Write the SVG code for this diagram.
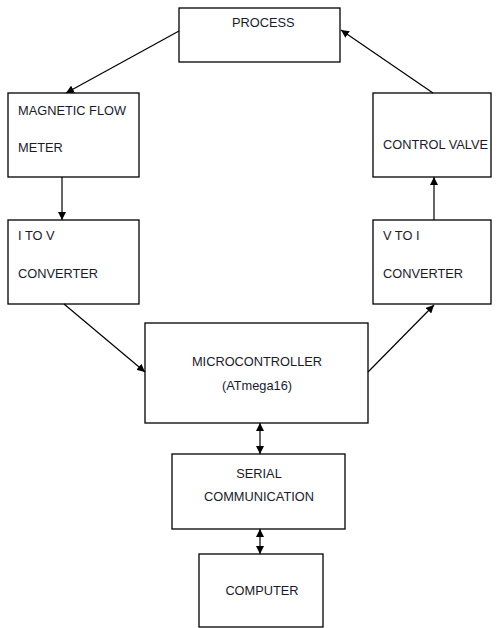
<svg xmlns="http://www.w3.org/2000/svg" width="500" height="628" viewBox="0 0 500 628">
<style>
.box{fill:#fff;stroke:#000;stroke-width:1.3}
.t{font-family:"Liberation Sans",Arial,sans-serif;font-size:12.8px;fill:#1a1a2e}
.c{text-anchor:middle}
.ln{stroke:#000;stroke-width:1.2;fill:none}
</style>
<defs>
<marker id="ah" viewBox="0 0 10 10" refX="10" refY="5" markerWidth="8" markerHeight="8" markerUnits="userSpaceOnUse" orient="auto-start-reverse">
<path d="M0,0 L10,5 L0,10 Z" fill="#000"/>
</marker>
</defs>
<rect width="500" height="628" fill="#fff"/>
<g id="process"><rect class="box" x="179" y="8" width="161" height="54"/><text class="t" x="232" y="27">PROCESS</text></g>
<g id="flowmeter"><rect class="box" x="8" y="93" width="131" height="84"/><text class="t" x="18" y="115">MAGNETIC FLOW</text><text class="t" x="18" y="152">METER</text></g>
<g id="itov"><rect class="box" x="8" y="220" width="131" height="84"/><text class="t" x="18" y="240">I TO V</text><text class="t" x="18" y="278">CONVERTER</text></g>
<g id="valve"><rect class="box" x="373" y="93" width="118" height="84"/><text class="t" x="383" y="149">CONTROL VALVE</text></g>
<g id="vtoi"><rect class="box" x="373" y="220" width="118" height="84"/><text class="t" x="383" y="240">V TO I</text><text class="t" x="383" y="278">CONVERTER</text></g>
<g id="micro"><rect class="box" x="145" y="323" width="223" height="100"/><text class="t c" x="257" y="366">MICROCONTROLLER</text><text class="t c" x="257" y="390">(ATmega16)</text></g>
<g id="serial"><rect class="box" x="172" y="454" width="173" height="75"/><text class="t c" x="259" y="478">SERIAL</text><text class="t c" x="259" y="501">COMMUNICATION</text></g>
<g id="computer"><rect class="box" x="199" y="554" width="124" height="73"/><text class="t c" x="262" y="595">COMPUTER</text></g>
<g id="connectors">
<line class="ln" x1="179" y1="31" x2="66" y2="93" marker-end="url(#ah)"/>
<line class="ln" x1="62" y1="177" x2="62" y2="220" marker-end="url(#ah)"/>
<line class="ln" x1="64" y1="304" x2="145" y2="372" marker-end="url(#ah)"/>
<line class="ln" x1="368" y1="372" x2="434" y2="305" marker-end="url(#ah)"/>
<line class="ln" x1="434" y1="220" x2="434" y2="177" marker-end="url(#ah)"/>
<line class="ln" x1="433" y1="93" x2="341" y2="30" marker-end="url(#ah)"/>
<line class="ln" x1="260" y1="423" x2="260" y2="454" marker-start="url(#ah)" marker-end="url(#ah)"/>
<line class="ln" x1="260" y1="529" x2="260" y2="554" marker-start="url(#ah)" marker-end="url(#ah)"/>
</g>
</svg>
